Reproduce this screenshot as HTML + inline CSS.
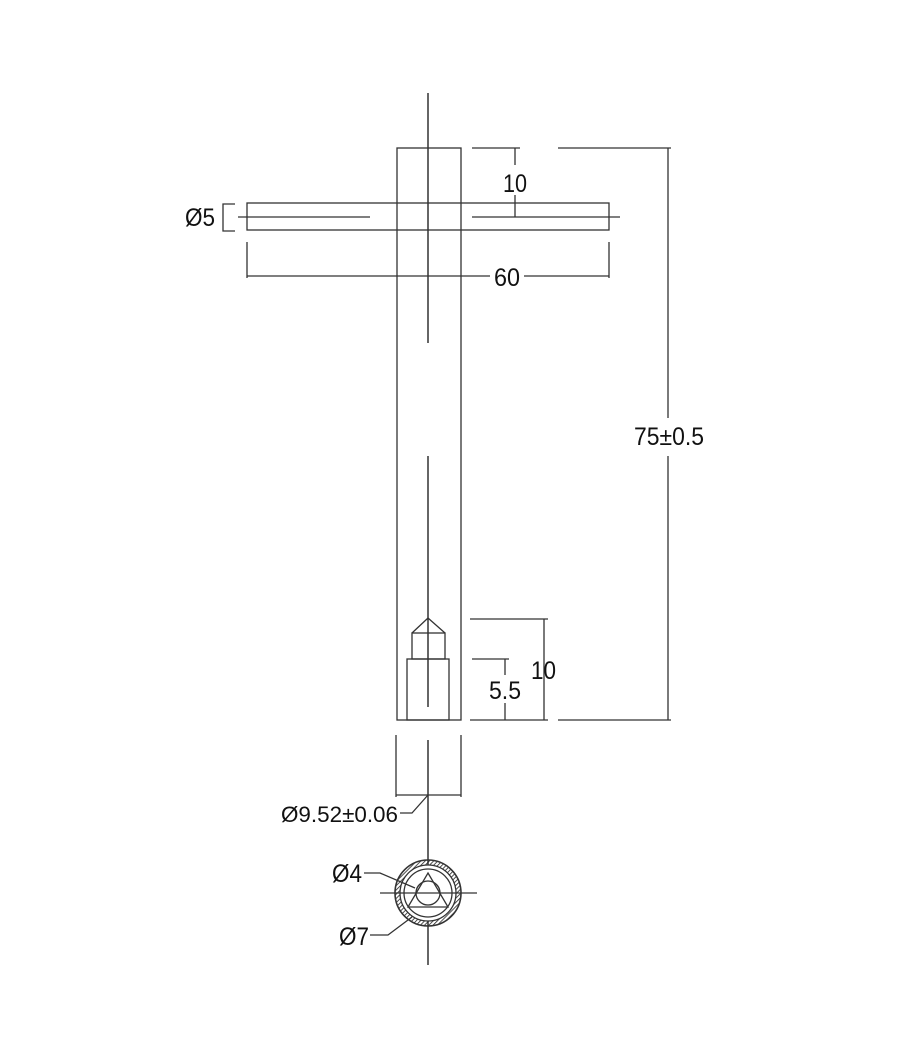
<!DOCTYPE html>
<html><head><meta charset="utf-8"><style>
html,body{margin:0;padding:0;background:#fff;}
svg{display:block;}
text{font-family:"Liberation Sans",sans-serif;fill:#111;}
</style></head><body>
<svg width="900" height="1047" viewBox="0 0 900 1047" xmlns="http://www.w3.org/2000/svg">
<defs>
<pattern id="h" width="3" height="3" patternUnits="userSpaceOnUse" patternTransform="rotate(45)">
<line x1="0" y1="0" x2="0" y2="3" stroke="#222" stroke-width="1.6"/>
</pattern>
</defs>
<g stroke="#333" stroke-width="1.3" fill="none">
<rect x="397" y="148" width="64" height="572"/>
<rect x="247" y="203" width="362" height="27"/>
<line x1="428" y1="93" x2="428" y2="343" stroke-width="1.5"/>
<line x1="428" y1="456" x2="428" y2="707" stroke-width="1.5"/>
<line x1="238" y1="217" x2="370" y2="217"/>
<line x1="472" y1="217" x2="620" y2="217"/>
<path d="M235,204 H223 V231 H235"/>
<line x1="247" y1="242" x2="247" y2="278"/>
<line x1="609" y1="242" x2="609" y2="278"/>
<line x1="247" y1="276" x2="490" y2="276"/>
<line x1="524" y1="276" x2="609" y2="276"/>
<line x1="472" y1="148" x2="520" y2="148"/>
<line x1="515" y1="148" x2="515" y2="165"/>
<line x1="515" y1="195" x2="515" y2="217"/>
<line x1="558" y1="148" x2="671" y2="148"/>
<line x1="558" y1="720" x2="671" y2="720"/>
<line x1="668" y1="148" x2="668" y2="418"/>
<line x1="668" y1="456" x2="668" y2="720"/>
<path d="M412,633 L428,618 L445,633"/>
<rect x="412" y="633" width="33" height="26"/>
<rect x="407" y="659" width="42" height="61"/>
<line x1="470" y1="619" x2="548" y2="619"/>
<line x1="470" y1="720" x2="548" y2="720"/>
<line x1="544" y1="619" x2="544" y2="720"/>
<line x1="472" y1="659" x2="509" y2="659"/>
<line x1="505" y1="659" x2="505" y2="675"/>
<line x1="505" y1="703" x2="505" y2="720"/>
<line x1="396" y1="735" x2="396" y2="797"/>
<line x1="461" y1="735" x2="461" y2="797"/>
<line x1="428" y1="740" x2="428" y2="965" stroke-width="1.5"/>
<line x1="396" y1="795" x2="461" y2="795"/>
<path d="M428,795 L412,813 L400,813"/>
<circle cx="428" cy="893" r="33" fill="url(#h)" stroke="none"/>
<circle cx="428" cy="893" r="28" fill="#fff" stroke="none"/>
<circle cx="428" cy="893" r="33" stroke-width="1.6"/>
<circle cx="428" cy="893" r="28"/>
<circle cx="428" cy="893" r="24"/>
<circle cx="428" cy="893" r="12"/>
<path d="M428,873 L448,907 L408,907 Z"/>
<line x1="380" y1="893" x2="477" y2="893"/>
<path d="M364,873 L380,873 L415,888"/>
<path d="M370,935 L388,935 L412,917"/>
</g>
<g font-size="25">
<text x="185" y="226" textLength="30" lengthAdjust="spacingAndGlyphs">Ø5</text>
<text x="503" y="192" textLength="24" lengthAdjust="spacingAndGlyphs">10</text>
<text x="494" y="286" textLength="26" lengthAdjust="spacingAndGlyphs">60</text>
<text x="634" y="445" textLength="70" lengthAdjust="spacingAndGlyphs">75±0.5</text>
<text x="531" y="679" textLength="25" lengthAdjust="spacingAndGlyphs">10</text>
<text x="489" y="699" textLength="32" lengthAdjust="spacingAndGlyphs">5.5</text>
<text x="281" y="822" font-size="22" textLength="117" lengthAdjust="spacingAndGlyphs">Ø9.52±0.06</text>
<text x="332" y="882" textLength="30" lengthAdjust="spacingAndGlyphs">Ø4</text>
<text x="339" y="945" textLength="30" lengthAdjust="spacingAndGlyphs">Ø7</text>
</g>
</svg>
</body></html>
